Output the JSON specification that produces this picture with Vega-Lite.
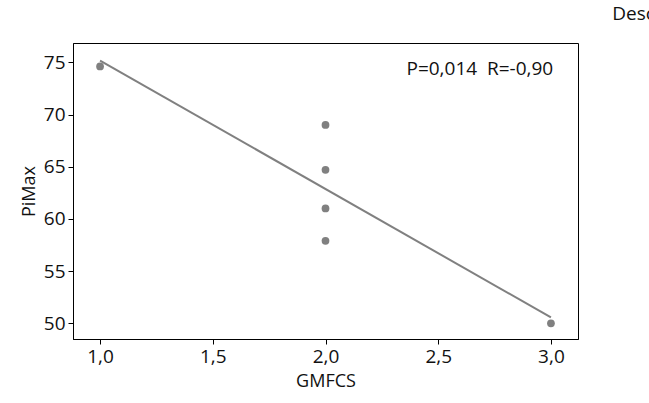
{
  "$schema": "https://vega.github.io/schema/vega-lite/v6.json",
  "width": 505,
  "height": 296,
  "autosize": {"type": "none"},
  "padding": {"left": 73, "top": 43, "right": 71, "bottom": 64},
  "background": "white",
  "config": {
    "locale": {"number": {"decimal": ",", "thousands": ".", "grouping": [3], "currency": ["", ""]}},
    "font": "Open Sans",
    "view": {"stroke": "black", "strokeWidth": 1},
    "axis": {"grid": false, "domainColor": "black", "tickColor": "black", "labelColor": "#111", "titleColor": "#111", "labelFont": "Open Sans", "titleFont": "Open Sans", "labelFontWeight": "normal", "titleFontWeight": "normal"}
  },
  "title": {"text": "PiMax vs GMFCS", "fontSize": 18, "fontWeight": "normal", "font": "Open Sans", "color": "#111", "offset": 8},
  "data": {"values": [
    {"GMFCS": 1, "PiMax": 74.6},
    {"GMFCS": 2, "PiMax": 69.0},
    {"GMFCS": 2, "PiMax": 64.7},
    {"GMFCS": 2, "PiMax": 61.0},
    {"GMFCS": 2, "PiMax": 57.9},
    {"GMFCS": 3, "PiMax": 50.0}
  ]},
  "layer": [
    {
      "mark": {"type": "point", "filled": true, "size": 60, "color": "#808080", "opacity": 1},
      "encoding": {
        "x": {"field": "GMFCS", "type": "quantitative", "scale": {"domain": [0.88, 3.12], "nice": false, "zero": false},
              "axis": {"values": [1, 1.5, 2, 2.5, 3], "format": ".1f", "labelFontSize": 19, "titleFontSize": 18, "tickSize": 5, "labelPadding": 3, "titlePadding": 6, "title": "GMFCS"}},
        "y": {"field": "PiMax", "type": "quantitative", "scale": {"domain": [48.5, 76.85], "nice": false, "zero": false},
              "axis": {"values": [50, 55, 60, 65, 70, 75], "format": "d", "labelFontSize": 19, "titleFontSize": 18, "tickSize": 5, "labelPadding": 3, "titlePadding": 5, "title": "PiMax"}}
      }
    },
    {
      "transform": [{"regression": "PiMax", "on": "GMFCS"}],
      "mark": {"type": "line", "color": "#808080", "strokeWidth": 2},
      "encoding": {
        "x": {"field": "GMFCS", "type": "quantitative"},
        "y": {"field": "PiMax", "type": "quantitative"}
      }
    },
    {
      "data": {"values": [{"label": "P=0,014\u00a0\u00a0R=-0,90"}]},
      "mark": {"type": "text", "align": "right", "baseline": "middle", "fontSize": 19, "font": "Open Sans", "color": "#111"},
      "encoding": {
        "x": {"datum": 3.01},
        "y": {"datum": 74.4},
        "text": {"field": "label"}
      }
    },
    {
      "data": {"values": [{"label": "Descriptive Statistics"}]},
      "mark": {"type": "text", "align": "left", "baseline": "middle", "fontSize": 19, "font": "Open Sans", "color": "#111", "clip": false},
      "encoding": {
        "x": {"datum": 3.272},
        "y": {"datum": 79.6},
        "text": {"field": "label"}
      }
    }
  ]
}
